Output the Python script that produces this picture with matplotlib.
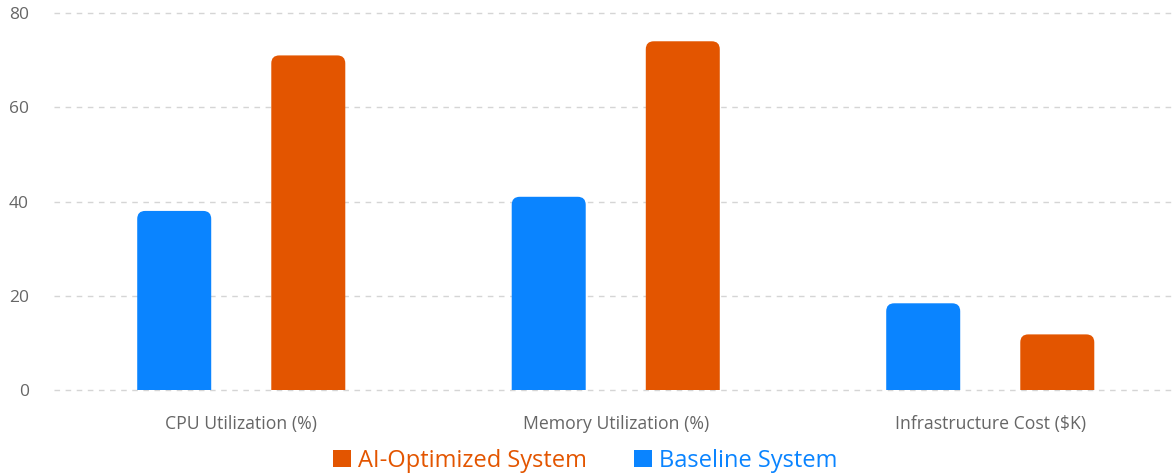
import matplotlib
matplotlib.use("Agg")
import matplotlib.pyplot as plt
from matplotlib.patches import FancyBboxPatch
import numpy as np

categories = ["CPU Utilization (%)", "Memory Utilization (%)", "Infrastructure Cost ($K)"]
baseline = [38, 41, 18.4]
ai_optimized = [71, 74, 11.8]
series_names = ["AI-Optimized System", "Baseline System"]
yticks = [0, 20, 40, 60, 80]

BLUE = "#0A84FF"
ORANGE = "#E35500"

plt.rcParams['font.family'] = ['Open Sans', 'DejaVu Sans']

W, H = 1172, 475
fig = plt.figure(figsize=(W/100, H/100), dpi=100)
left_px, right_px, bottom_px, top_px = 54, 1177.5, 390, 13
ax = fig.add_axes([left_px/W, (H-bottom_px)/H, (right_px-left_px)/W, (bottom_px-top_px)/H])

x = np.arange(len(categories))
bw = 0.1976
off = 0.179
b1 = ax.bar(x - off, baseline, bw, color=BLUE, label=series_names[1], zorder=3)
b2 = ax.bar(x + off, ai_optimized, bw, color=ORANGE, label=series_names[0], zorder=3)

ax.set_xlim(-0.5, 2.5)
ax.set_ylim(0, 80)

# rounded tops
xpp = 3 / (right_px - left_px)
ypp = 80 / (bottom_px - top_px)
aspect = ypp / xpp
r_px = 8
for bars, col in ((b1, BLUE), (b2, ORANGE)):
    for rect in bars:
        bx, by, bwid, bh = rect.get_x(), rect.get_y(), rect.get_width(), rect.get_height()
        rect.set_visible(False)
        ext = r_px * ypp * 1.5
        p = FancyBboxPatch((bx, by - ext), bwid, bh + ext,
                           boxstyle=f"round,pad=0,rounding_size={r_px*xpp}",
                           mutation_aspect=aspect, facecolor=col, edgecolor='none',
                           zorder=3, clip_on=True)
        ax.add_patch(p)

ax.set_yticks(yticks)
ax.set_xticks(x)
ax.set_xticklabels(categories)
ax.tick_params(axis='y', length=0, pad=18, labelsize=12.5, labelcolor='#666666')
ax.tick_params(axis='x', length=0, pad=18, labelsize=12.7, labelcolor='#666666')
ax.grid(axis='y', color='#d5d5d5', linestyle=(0, (4, 4)), linewidth=1, zorder=0)
for gl in ax.get_ygridlines():
    gl.set_clip_on(False)
for s in ax.spines.values():
    s.set_visible(False)

leg = fig.legend(handles=[b2, b1], labels=series_names, loc='center', bbox_to_anchor=(585/W, (H-461)/H),
                 ncol=2, frameon=False, fontsize=17, handlelength=0.75, handleheight=0.75,
                 handletextpad=0.3, columnspacing=2.0)
for t, c in zip(leg.get_texts(), [ORANGE, BLUE]):
    t.set_color(c)
for h in leg.legend_handles:
    h.set_visible(True)

fig.savefig("out.png", dpi=100)
